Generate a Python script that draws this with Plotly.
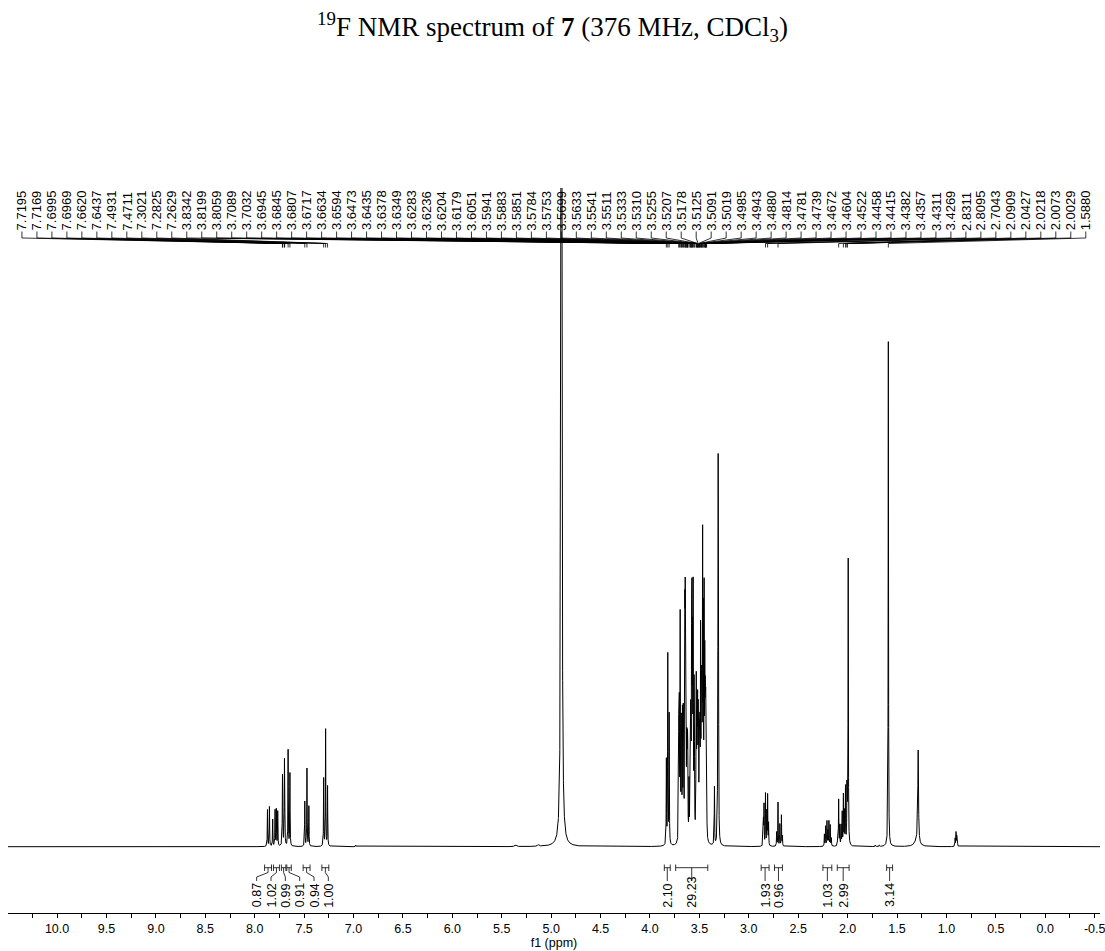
import numpy as np
import plotly.graph_objects as go

# ---------------- spectrum lines (ppm, height, half-width) ----------------
arom_ppm = [7.871, 7.851, 7.818, 7.794, 7.781, 7.767, 7.7195, 7.7169, 7.6995, 7.6969,
            7.6620, 7.6437, 7.4931, 7.4711, 7.4520, 7.3021, 7.2825, 7.2629, 6.98]
arom_h = [37, 40, 27, 36, 37, 35, 51, 49, 62, 60,
          96, 73, 45, 78, 40, 68, 117, 60, 1.5]

ether_ppm = [3.8342, 3.8199, 3.8059,
             3.7089, 3.7032, 3.6945, 3.6845, 3.6807, 3.6717, 3.6634, 3.6594,
             3.6473, 3.6435, 3.6378, 3.6349, 3.6283, 3.6236, 3.6204, 3.6179,
             3.6051, 3.5941, 3.5883, 3.5851, 3.5784, 3.5753, 3.5699, 3.5633,
             3.5541, 3.5511, 3.5333, 3.5310, 3.5255, 3.5207, 3.5178, 3.5125,
             3.5091, 3.5019, 3.4985, 3.4943, 3.4880, 3.4814, 3.4781, 3.4739,
             3.4672, 3.4604, 3.4522, 3.4458, 3.4415, 3.4382, 3.4357, 3.4311, 3.4269,
             3.3477, 3.3142, 3.3100, 3.3058]
ether_h = [85, 190, 130,
           128, 125, 220, 95, 95, 120, 105, 100,
           195, 200, 110, 110, 80, 65, 60, 60,
           55, 85, 90, 95, 180, 175, 170, 235,
           115, 110, 105, 100, 90, 85, 95, 95,
           80, 70, 72, 85, 190, 110, 105, 110,
           280, 200, 230, 150, 95, 85, 85, 70, 55,
           58, 115, 350, 115]

aliph_ppm = [2.852, 2.846, 2.8311, 2.818, 2.8095, 2.800,
             2.718, 2.7043, 2.686, 2.670, 2.660,
             2.235, 2.223, 2.209, 2.199, 2.189, 2.176, 2.165,
             2.100, 2.0909, 2.080, 2.066, 2.055, 2.0427, 2.033, 2.0218, 2.0073, 2.0029, 1.9940,
             1.72, 1.68, 1.5880,
             0.912, 0.903, 0.896, 0.889]
aliph_h = [25, 40, 52, 33, 50, 22,
           14, 44, 22, 31, 10,
           12, 20, 25, 15, 25, 21, 8,
           14, 46, 20, 20, 33, 50, 33, 58, 52, 38, 285,
           1.5, 1.5, 505,
           8, 14, 10, 6]

# broader signals: residual water, grease, small impurities
broad_ppm = [4.8960, 1.2860, 1.3000, 5.36, 5.13]
broad_h = [3000, 92, 6, 1.5, 1.5]
broad_w = [0.003, 0.004, 0.025, 0.01, 0.01]

LINE_W = 0.002

# ---------------- axis ticks ----------------
tick_ppm = [10.0, 9.5, 9.0, 8.5, 8.0, 7.5, 7.0, 6.5, 6.0, 5.5, 5.0,
            4.5, 4.0, 3.5, 3.0, 2.5, 2.0, 1.5, 1.0, 0.5, 0.0, -0.5]
tick_text = [f"{t:.1f}" for t in tick_ppm]

# ---------------- peak picking labels ----------------
peak_labels = [7.7195, 7.7169, 7.6995, 7.6969, 7.6620, 7.6437, 7.4931, 7.4711,
               7.3021, 7.2825, 7.2629, 3.8342, 3.8199, 3.8059, 3.7089, 3.7032,
               3.6945, 3.6845, 3.6807, 3.6717, 3.6634, 3.6594, 3.6473, 3.6435,
               3.6378, 3.6349, 3.6283, 3.6236, 3.6204, 3.6179, 3.6051, 3.5941,
               3.5883, 3.5851, 3.5784, 3.5753, 3.5699, 3.5633, 3.5541, 3.5511,
               3.5333, 3.5310, 3.5255, 3.5207, 3.5178, 3.5125, 3.5091, 3.5019,
               3.4985, 3.4943, 3.4880, 3.4814, 3.4781, 3.4739, 3.4672, 3.4604,
               3.4522, 3.4458, 3.4415, 3.4382, 3.4357, 3.4311, 3.4269, 2.8311,
               2.8095, 2.7043, 2.0909, 2.0427, 2.0218, 2.0073, 2.0029, 1.5880]

# ---------------- integrals ----------------
int_left = [7.90, 7.81, 7.73, 7.675, 7.51, 7.32, 3.855, 3.74, 2.875, 2.74, 2.25, 2.105, 1.605]
int_right = [7.83, 7.75, 7.685, 7.63, 7.44, 7.25, 3.795, 3.415, 2.795, 2.66, 2.16, 1.985, 1.545]
int_values = [0.87, 1.02, 0.99, 0.91, 0.94, 1.00, 2.10, 29.23, 1.93, 0.96, 1.03, 2.99, 3.14]
int_label_ppm = [7.98, 7.835, 7.69, 7.545, 7.40, 7.255, None, None, None, None, None, None, None]

# ---------------- layout geometry (pixels) ----------------
W, H = 1105, 951
X_LEFT, X_RIGHT = 10.497, -0.554
AXIS_PX, TOP_PX, BASE_PX = 912.7, 188.0, 846.7
PLOT_LEFT_PX = 8


def yd(px):
    """Vertical pixel position -> data units (1 unit = 1 px, 0 = baseline)."""
    return BASE_PX - px


FONT = "Liberation Sans"

# build the spectrum trace from the line list
ppm = np.arange(X_RIGHT, X_LEFT, 0.0004)
spec = np.zeros_like(ppm)
lines = ([(c, h, LINE_W) for c, h in zip(arom_ppm, arom_h)]
         + [(c, h, LINE_W) for c, h in zip(ether_ppm, ether_h)]
         + [(c, h, LINE_W) for c, h in zip(aliph_ppm, aliph_h)]
         + list(zip(broad_ppm, broad_h, broad_w)))
for c, h, w in lines:
    spec += h * w * w / ((ppm - c) ** 2 + w * w)

fig = go.Figure()
fig.add_trace(go.Scatter(x=ppm, y=spec, mode="lines",
                         line=dict(color="black", width=1), hoverinfo="skip"))

# peak label fan: label slots evenly spread across the top
slot_left = (1050 - 22) / 99.27
slot_right = (1050 - 1090.7) / 99.27
slots = np.linspace(slot_left, slot_right, len(peak_labels))
fx, fy = [], []
for s, p in zip(slots, peak_labels):
    fx += [s, s, p, p, None]
    fy += [yd(231.5), yd(238), yd(243.5), yd(247.5), None]
fig.add_trace(go.Scatter(x=fx, y=fy, mode="lines",
                         line=dict(color="black", width=0.8), hoverinfo="skip"))

annotations = []
for s, p in zip(slots, peak_labels):
    annotations.append(dict(x=s, y=yd(231.5), xref="x", yref="y", text=f"{p:.4f}",
                            textangle=-90, showarrow=False, xanchor="center",
                            yanchor="bottom", borderpad=0,
                            font=dict(family=FONT, size=13, color="black")))

# integral brackets with their connectors and values
ix, iy = [], []
for a, b, v, lp in zip(int_left, int_right, int_values, int_label_ppm):
    c = (a + b) / 2
    lp = c if lp is None else lp
    ix += [a, a, None, a, b, None, b, b, None]
    iy += [yd(864.5), yd(871), None, yd(867.7), yd(867.7), None, yd(864.5), yd(871), None]
    ix += [c, c, lp, lp, None]
    iy += [yd(867.7), yd(872.5), yd(877), yd(881), None]
    annotations.append(dict(x=lp, y=yd(908.5), xref="x", yref="y", text=f"{v:.2f}",
                            textangle=-90, showarrow=False, xanchor="center",
                            yanchor="bottom", borderpad=0,
                            font=dict(family=FONT, size=12.5, color="black")))
fig.add_trace(go.Scatter(x=ix, y=iy, mode="lines",
                         line=dict(color="black", width=0.8), hoverinfo="skip"))

fig.update_layout(
    width=W, height=H, margin=dict(l=0, r=0, t=0, b=0),
    paper_bgcolor="white", plot_bgcolor="white", showlegend=False,
    title=dict(text="<sup>19</sup>F NMR spectrum of <b>7</b> (376 MHz, CDCl<sub>3</sub>)",
               x=0.5, xanchor="center", y=1 - 27 / H, yanchor="middle",
               font=dict(family="Liberation Serif", size=27, color="black")),
    xaxis=dict(domain=[PLOT_LEFT_PX / W, 1], range=[X_LEFT, X_RIGHT],
               showline=True, linecolor="black", linewidth=1,
               ticks="outside", ticklen=4, tickwidth=1, tickcolor="black",
               tickmode="array", tickvals=tick_ppm, ticktext=tick_text,
               ticklabeloverflow="allow",
               minor=dict(tick0=0, dtick=0.25, ticks="outside", ticklen=4,
                          tickwidth=1, tickcolor="black"),
               showgrid=False, zeroline=False,
               tickfont=dict(family=FONT, size=12.5, color="black"),
               title=dict(text="f1 (ppm)", standoff=3,
                          font=dict(family=FONT, size=12.5, color="black"))),
    yaxis=dict(domain=[(H - AXIS_PX) / H, (H - TOP_PX) / H],
               range=[yd(AXIS_PX), yd(TOP_PX)], visible=False,
               showgrid=False, zeroline=False),
    annotations=annotations,
)

fig.write_html("out.html")
